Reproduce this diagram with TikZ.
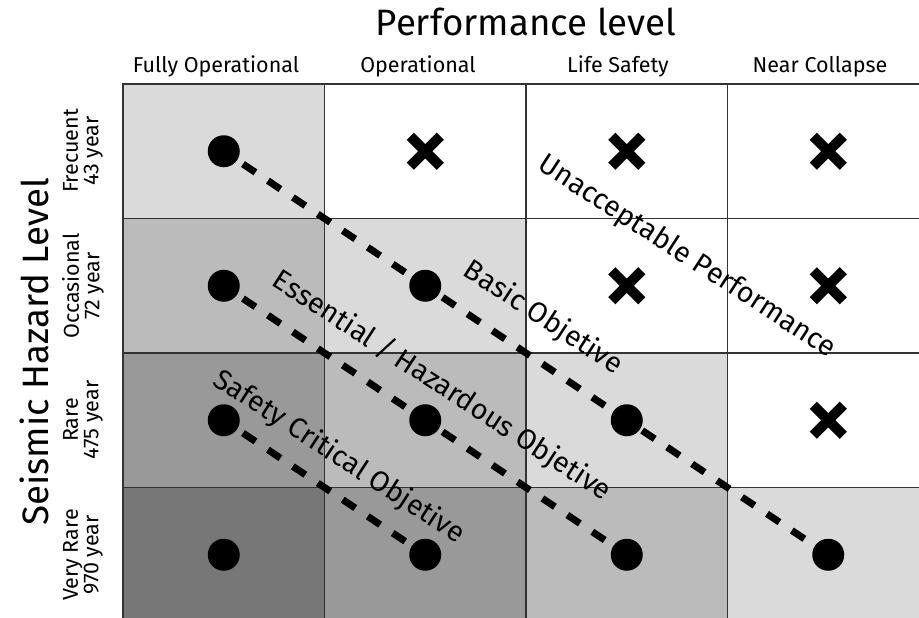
\documentclass[tikz,border=0pt]{standalone}
\usepackage{fontspec}
\setmainfont{Fira Sans}
\definecolor{lvA}{HTML}{DADADA}
\definecolor{lvB}{HTML}{BBBBBB}
\definecolor{lvC}{HTML}{999999}
\definecolor{lvD}{HTML}{777777}
\begin{document}
\begin{tikzpicture}[x=1pt,y=-1pt,
  cellbox/.style={draw=black!80, line width=1.3pt, minimum width=201.5pt,
    minimum height=134.5pt, inner sep=0pt, outer sep=0pt},
  dot/.style={circle, fill=black, minimum size=32pt, inner sep=0pt},
  xspot/.style={minimum size=30pt, inner sep=0pt, outer sep=0pt},
  xstroke/.style={line width=10pt, line cap=butt},
  objline/.style={line width=7pt, dash pattern=on 15pt off 15pt, dash phase=6.9pt},
  bigtitle/.style={font=\fontsize{36.7}{42}\selectfont, inner sep=0pt},
  colhead/.style={font=\fontsize{21.5}{24}\selectfont, anchor=base, inner sep=0pt},
  rowhead/.style={font=\fontsize{21.5}{20.5}\selectfont, align=center, rotate=90, inner sep=0pt},
  diaglabel/.style={font=\fontsize{28.5}{32}\selectfont, rotate=-33, inner sep=0pt}]
\clip (0,0) rectangle (919,618);
\fill[white] (0,0) rectangle (919,618);

% grid of cells, shaded by how far below the diagonal they sit
\foreach \r/\c/\shade in {1/1/lvA,1/2/white,1/3/white,1/4/white,
                          2/1/lvB,2/2/lvA,2/3/white,2/4/white,
                          3/1/lvC,3/2/lvB,3/3/lvA,3/4/white,
                          4/1/lvD,4/2/lvC,4/3/lvB,4/4/lvA}
  \node[cellbox, fill=\shade] (cell-\r-\c)
    at ({123+201.5*(\c-0.5)},{84+134.5*(\r-0.5)}) {};

% performance objectives
\draw[objline] (cell-1-1.center) -- (cell-4-4.center);
\draw[objline] (cell-2-1.center) -- (cell-4-3.center);
\draw[objline] (cell-3-1.center) -- (cell-4-2.center);

% acceptable (dot) and unacceptable (cross) combinations
\foreach \r/\c in {1/1,2/1,2/2,3/1,3/2,3/3,4/1,4/2,4/3,4/4}
  \node[dot] (d-\r-\c) at (cell-\r-\c.center) {};
\foreach \r/\c in {1/2,1/3,1/4,2/3,2/4,3/4}{
  \node[xspot] (x-\r-\c) at (cell-\r-\c.center) {};
  \draw[xstroke] (x-\r-\c.north west) -- (x-\r-\c.south east)
                 (x-\r-\c.north east) -- (x-\r-\c.south west);
}

% axis titles
\node[bigtitle, anchor=base] (ptitle) at (526,36) {Performance level};
\node[bigtitle, rotate=90] (stitle) at (34,352) {Seismic Hazard Level};

% column headings
\node[colhead] (h1) at (216,73) {Fully Operational};
\node[colhead] (h2) at (418,73) {Operational};
\node[colhead] (h3) at (618,73) {Life Safety};
\node[colhead] (h4) at (820,73) {Near Collapse};

% row headings
\node[rowhead] (r1) at (83,151) {Frecuent\\43 year};
\node[rowhead] (r2) at (83,286) {Occasional\\72 year};
\node[rowhead] (r3) at (83,420) {Rare\\475 year};
\node[rowhead] (r4) at (83,555) {Very Rare\\970 year};

% labels along the objective lines
\node[diaglabel] (l1) at (687,257) {Unacceptable Performance};
\node[diaglabel] (l2) at (543,318) {Basic Objetive};
\node[diaglabel] (l3) at (442,386) {Essential / Hazardous Objetive};
\node[diaglabel] (l4) at (339,457) {Safety Critical Objetive};
\end{tikzpicture}
\end{document}
